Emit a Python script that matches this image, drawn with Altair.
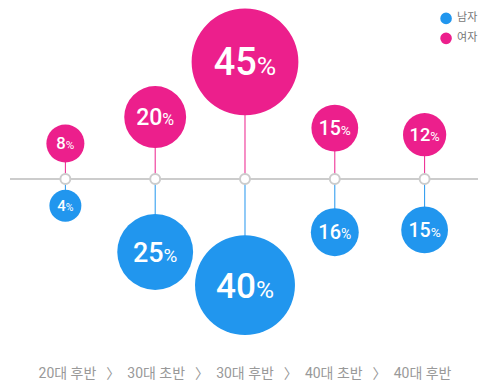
import altair as alt
import pandas as pd

categories = ["20대 후반", "30대 초반", "30대 후반", "40대 초반", "40대 후반"]
male = [4, 25, 40, 16, 15]
female = [8, 20, 45, 15, 12]
genders = ["남자", "여자"]
colors = ["#2196EE", "#EC1F8C"]

rows = []
for i, c in enumerate(categories):
    rows.append({"idx": i, "cat": c, "gender": genders[0], "value": male[i], "sign": -1})
    rows.append({"idx": i, "cat": c, "gender": genders[1], "value": female[i], "sign": 1})
df = pd.DataFrame(rows)
cat_df = pd.DataFrame({"idx": list(range(len(categories))), "cat": categories, "zero": 0})
SEP = "\u2002\u2009〉\u2002"
footer_df = pd.DataFrame({"label": [SEP.join(categories)], "idx": [2]})

PXX = 90.0
PXY = 2.21
xscale = alt.Scale(domain=[0, 4], range=[57.5, 417.5], nice=False, zero=False)
yscale = alt.Scale(domain=[-205 / PXY, 170 / PXY], nice=False, zero=False)
cscale = alt.Scale(domain=genders, range=colors)
FONT = "Roboto, 'Noto Sans CJK KR'"

SIZE_DOM = [4, 16, 25, 45]
legend = alt.Legend(
    title=None, orient="none", legendX=433, legendY=3,
    symbolType="circle", symbolSize=135, labelFontSize=11,
    labelColor="#777777", labelFont="Noto Sans CJK KR",
    labelOffset=5, rowPadding=8, padding=0, symbolStrokeWidth=0,
)

base = alt.Chart(df).transform_calculate(
    pos="datum.sign*(datum.value+8.1)",
    zero="0",
    f=("datum.value<=16 ? 15+(datum.value-4)*5/12 : "
       "(datum.value<=25 ? 20+(datum.value-16)*7/9 : 27+(datum.value-25)*11/20)"),
    nd="length(toString(datum.value))",
).transform_calculate(
    xb=f"datum.idx + datum.f*(0.57*datum.nd-0.52)/2/{PXX}",
    yb=f"datum.pos - 0.355*datum.f/{PXY}",
)

hline = alt.Chart(cat_df).mark_rule(color="#cccccc", strokeWidth=2).encode(
    x=alt.value(2), x2=alt.value(471),
    y=alt.Y("zero:Q", scale=yscale, axis=None),
)

connectors = base.mark_rule(strokeWidth=1).encode(
    x=alt.X("idx:Q", scale=xscale, axis=None),
    y=alt.Y("zero:Q", scale=yscale, axis=None),
    y2="pos:Q",
    color=alt.Color("gender:N", scale=cscale, legend=legend),
)

nodes = alt.Chart(cat_df).mark_circle(
    size=100, fill="white", stroke="#cccccc", strokeWidth=2, opacity=1
).encode(
    x=alt.X("idx:Q", scale=xscale, axis=None),
    y=alt.Y("zero:Q", scale=yscale, axis=None),
)

bubbles = base.mark_circle(opacity=1).encode(
    x=alt.X("idx:Q", scale=xscale, axis=None),
    y=alt.Y("pos:Q", scale=yscale, axis=None),
    color=alt.Color("gender:N", scale=cscale, legend=legend),
    size=alt.Size("value:Q", scale=alt.Scale(domain=SIZE_DOM, range=[1024, 2304, 5776, 11449],
                                             zero=False), legend=None),
)

numbers = base.mark_text(align="right", baseline="alphabetic", color="white",
                         font=FONT, fontWeight=500).encode(
    x=alt.X("xb:Q", scale=xscale, axis=None),
    y=alt.Y("yb:Q", scale=yscale, axis=None),
    text="value:Q",
    size=alt.Size("value:Q", scale=alt.Scale(domain=SIZE_DOM, range=[15, 20, 27, 38], zero=False),
                  legend=None),
)

pcts = base.mark_text(align="left", baseline="alphabetic", color="white", font=FONT,
                      text="%").encode(
    x=alt.X("xb:Q", scale=xscale, axis=None),
    y=alt.Y("yb:Q", scale=yscale, axis=None),
    size=alt.Size("value:Q", scale=alt.Scale(domain=SIZE_DOM, range=[10.5, 14, 18.9, 26.6],
                                             zero=False), legend=None),
)

footer = alt.Chart(footer_df).mark_text(
    align="center", baseline="middle", fontSize=14, color="#999999", font=FONT
).encode(
    x=alt.X("idx:Q", scale=xscale, axis=None),
    y=alt.value(365),
    text="label:N",
)

chart = alt.layer(hline, connectors, nodes, bubbles, numbers, pcts, footer).resolve_scale(
    size="independent"
).properties(width=471, height=375, padding=0).configure_view(stroke=None)

chart.save("out.html", embed_options={"renderer": "svg", "actions": False})
